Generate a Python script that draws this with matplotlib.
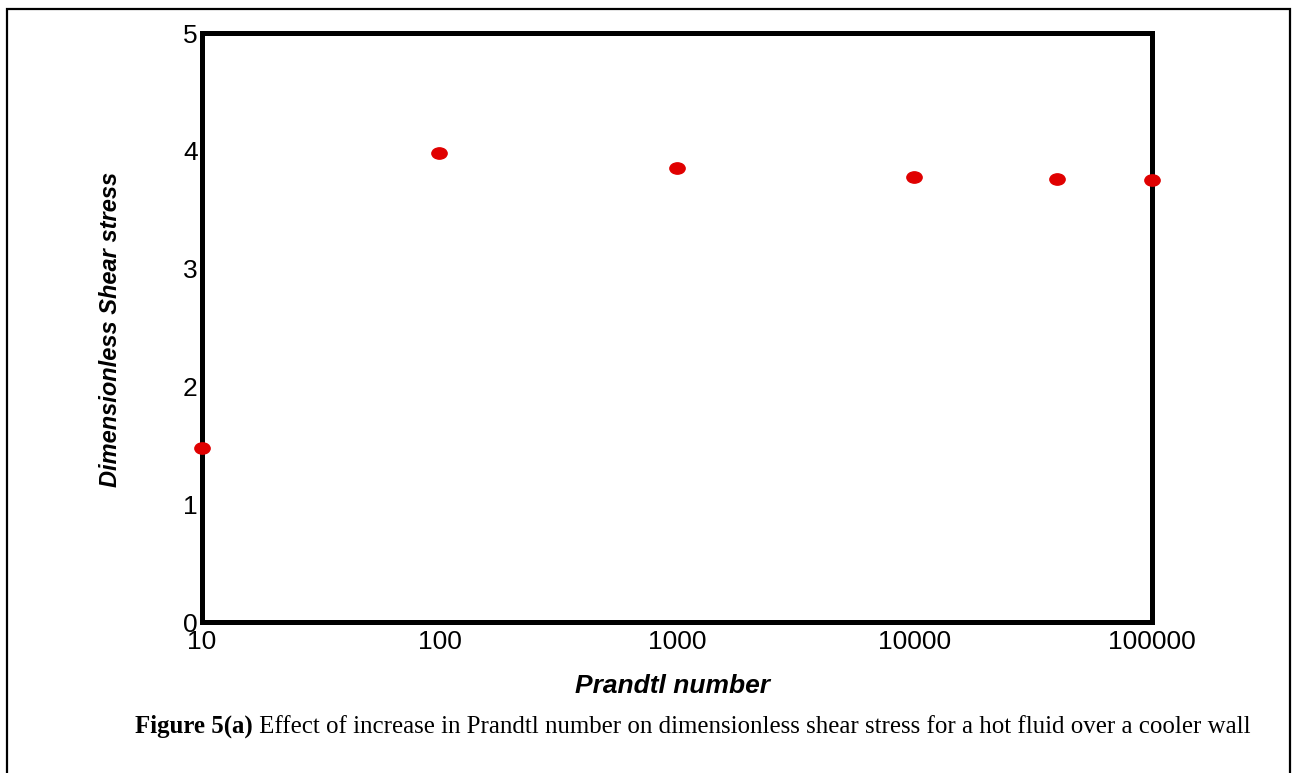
import matplotlib
matplotlib.use("Agg")
import matplotlib.pyplot as plt
from matplotlib.path import Path
from matplotlib.patches import Rectangle
from matplotlib.ticker import FixedLocator, NullLocator, FixedFormatter
import numpy as np

# data
prandtl = [10, 100, 1000, 10000, 40000, 100000]
shear = [1.48, 3.98, 3.85, 3.78, 3.76, 3.75]
xticks = [10, 100, 1000, 10000, 100000]
xtick_labels = ["10", "100", "1000", "10000", "100000"]
yticks = [0, 1, 2, 3, 4, 5]

fig = plt.figure(figsize=(12.92, 7.73), dpi=100)
ax = fig.add_axes([0.1563, 0.1953, 0.7353, 0.762])

# slightly flattened dot marker
circ = Path.unit_circle()
ellipse = Path(circ.vertices * np.array([1.35, 1.0]), circ.codes)
ax.plot(prandtl, shear, linestyle="none", marker=ellipse, markersize=11,
        color="#e00000", clip_on=False, zorder=5)

ax.set_xscale("log")
ax.set_xlim(10, 100000)
ax.set_ylim(0, 5)
ax.xaxis.set_major_locator(FixedLocator(xticks))
ax.xaxis.set_major_formatter(FixedFormatter(xtick_labels))
ax.xaxis.set_minor_locator(NullLocator())
ax.set_yticks(yticks)
ax.tick_params(length=0, labelsize=19)
ax.tick_params(axis="y", pad=3)
ax.tick_params(axis="x", pad=6)
for lab in ax.get_xticklabels() + ax.get_yticklabels():
    lab.set_family("Liberation Sans")

for sp in ax.spines.values():
    sp.set_linewidth(3.6)

ax.set_ylabel("Dimensionless Shear stress", family="Liberation Sans", fontsize=17,
              fontweight="bold", fontstyle="italic")
ax.yaxis.set_label_coords(-0.084, 0.496)
ax.set_xlabel("Prandtl number", family="Liberation Sans", fontsize=19,
              fontweight="bold", fontstyle="italic")
ax.xaxis.set_label_coords(0.495, -0.088)

# caption
bold = fig.text(135 / 1292, 1 - 733 / 773, "Figure 5(a)", family="Liberation Serif",
                fontsize=17.9, fontweight="bold", va="baseline")
ax.annotate(" Effect of increase in Prandtl number on dimensionless shear stress "
            "for a hot fluid over a cooler wall",
            xy=(1, 0), xycoords=bold, va="bottom", ha="left",
            family="Liberation Serif", fontsize=17.9, annotation_clip=False)

# outer frame
fig.patches.append(Rectangle((7 / 1292, -0.02), 1283 / 1292, 1.02 - 9 / 773,
                             transform=fig.transFigure, fill=False,
                             edgecolor="black", linewidth=1.6))

fig.savefig("out.png", dpi=100)
